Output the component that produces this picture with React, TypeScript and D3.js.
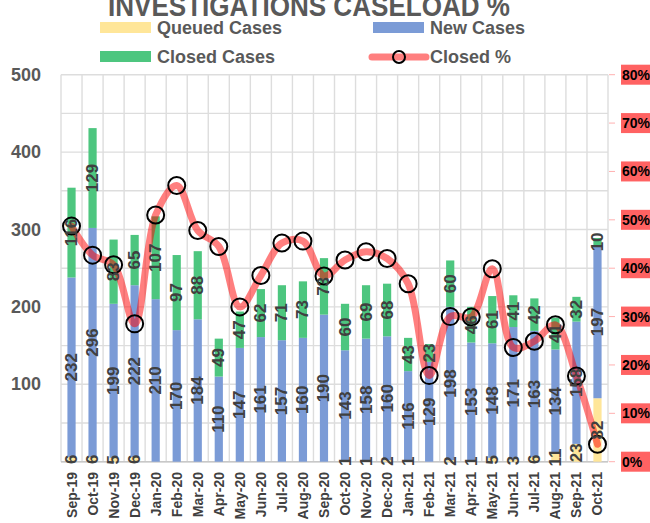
import React from "react";
import * as d3 from "d3";

const months = ["Sep-19","Oct-19","Nov-19","Dec-19","Jan-20","Feb-20","Mar-20","Apr-20","May-20","Jun-20","Jul-20","Aug-20","Sep-20","Oct-20","Nov-20","Dec-20","Jan-21","Feb-21","Mar-21","Apr-21","May-21","Jun-21","Jul-21","Aug-21","Sep-21","Oct-21"];
const queuedCases = [6,6,5,6,0,0,0,0,0,0,0,0,0,1,1,2,1,0,2,1,5,3,6,11,23,82];
const newCases = [232,296,199,222,210,170,184,110,147,161,157,160,190,143,158,160,116,129,198,153,148,171,163,134,158,197];
const closedCases = [116,129,83,65,107,97,88,49,47,62,71,73,73,60,69,68,43,23,60,46,61,41,42,41,32,10];
const closedPct = [48.7,42.7,40.7,28.5,51.0,57.1,47.8,44.5,32.0,38.5,45.2,45.6,38.4,41.7,43.4,42.0,36.8,17.8,30.0,29.9,39.9,23.6,24.9,28.3,17.7,3.6];
const leftTicks = [100,200,300,400,500];
const gridTicks = [0,50,100,150,200,250,300,350,400,450,500];
const rightTicks = [0,10,20,30,40,50,60,70,80];

const C_Q = "#FFE699";
const C_N = "#7B9BD6";
const C_C = "#4DC67F";
const FONT = "'Liberation Sans', Arial, sans-serif";
const LBL = "#404040";

export default function App() {
  const W = 650, H = 523;
  const left = 61, right = 608, top = 74.7, bottom = 461.7;
  const x = d3.scaleBand<string>().domain(months).range([left, right]).padding(0);
  const y = d3.scaleLinear().domain([0, 500]).range([bottom, top]);
  const yp = d3.scaleLinear().domain([0, 80]).range([bottom, top]);
  const bw = x.bandwidth() * 0.39;

  const rows = months.map((m, i) => {
    const q = queuedCases[i], n = newCases[i], c = closedCases[i];
    return { m, q, n, c, p: closedPct[i], cx: (x(m) as number) + x.bandwidth() / 2 };
  });

  const line = d3.line<any>()
    .x((d) => d.cx)
    .y((d) => yp(d.p))
    .curve(d3.curveCatmullRom.alpha(0.5));

  const label = (key: string, cx: number, cy: number, v: number) => (
    <text key={key} transform={`translate(${cx},${cy}) rotate(-90)`} textAnchor="middle" dominantBaseline="central"
      fontFamily={FONT} fontWeight="bold" fontSize={17} fill={LBL}>{v}</text>
  );

  return (
    <svg width={W} height={H} style={{ position: "fixed", left: 0, top: 0, background: "#fff" }}>
      <rect x={0} y={0} width={W} height={H} fill="#fff" />
      {/* title */}
      <text x={309} y={16} textAnchor="middle" fontFamily={FONT} fontWeight="bold" fontSize={30} fill="#595959"
        textLength={402} lengthAdjust="spacingAndGlyphs">INVESTIGATIONS CASELOAD %</text>
      {/* legend */}
      <g fontFamily={FONT} fontWeight="bold" fontSize={18} fill="#595959">
        <rect x={100} y={22} width={51} height={11} fill={C_Q} />
        <text x={157} y={34}>Queued Cases</text>
        <rect x={373} y={22} width={51} height={11} fill={C_N} />
        <text x={430} y={34}>New Cases</text>
        <rect x={100} y={51} width={51} height={11} fill={C_C} />
        <text x={157} y={63}>Closed Cases</text>
        <line x1={372} x2={426} y1={57} y2={57} stroke="#FF0000" strokeOpacity={0.5} strokeWidth={7} strokeLinecap="round" />
        <circle cx={399} cy={57} r={6} fill="none" stroke="#000" strokeWidth={2} />
        <text x={430} y={63}>Closed %</text>
      </g>
      {/* gridlines */}
      <g stroke="#DDDDDD" strokeWidth={1.4}>
        {gridTicks.map((t) => <line key={"h" + t} x1={left} x2={right} y1={y(t)} y2={y(t)} />)}
        {months.map((m) => <line key={"v" + m} x1={x(m)} x2={x(m)} y1={top} y2={bottom} />)}
        <line x1={right} x2={right} y1={top} y2={bottom} />
      </g>
      <line x1={left} x2={right} y1={bottom} y2={bottom} stroke="#C8C8C8" strokeWidth={1.4} />
      {/* left axis */}
      <g fontFamily={FONT} fontWeight="bold" fontSize={18} fill="#595959">
        {leftTicks.map((t) => <text key={t} x={41} y={y(t)} textAnchor="end" dominantBaseline="central">{t}</text>)}
      </g>
      {/* right axis */}
      <g>
        {rightTicks.map((t) => (
          <g key={t}>
            <line x1={609} x2={615} y1={yp(t)} y2={yp(t)} stroke="#FFB0B0" strokeWidth={1} />
            <rect x={621} y={yp(t) - 10} width={32} height={20} fill="#FF6262" />
            <text x={622} y={yp(t)} dominantBaseline="central" fontFamily={FONT} fontWeight="bold" fontSize={14} fill="#000">{t}%</text>
          </g>
        ))}
      </g>
      {/* bars */}
      {rows.map((r) => (
        <g key={r.m}>
          {r.q > 0 && <rect x={r.cx - bw / 2} y={y(r.q)} width={bw} height={y(0) - y(r.q)} fill={C_Q} />}
          <rect x={r.cx - bw / 2} y={y(r.q + r.n)} width={bw} height={y(r.q) - y(r.q + r.n)} fill={C_N} />
          <rect x={r.cx - bw / 2} y={y(r.q + r.n + r.c)} width={bw} height={y(r.q + r.n) - y(r.q + r.n + r.c)} fill={C_C} />
        </g>
      ))}
      {/* line */}
      <path d={line(rows) as string} fill="none" stroke="#FF0000" strokeOpacity={0.5} strokeWidth={7} strokeLinejoin="round" strokeLinecap="round" />
      {rows.map((r) => <circle key={"c" + r.m} cx={r.cx} cy={yp(r.p)} r={8.5} fill="none" stroke="#000" strokeWidth={2} />)}
      {/* data labels */}
      {rows.map((r) => (
        <g key={"l" + r.m}>
          {r.q > 0 && label("q", r.cx, y(r.q / 2), r.q)}
          {label("n", r.cx, y(r.q + r.n / 2), r.n)}
          {label("c", r.cx, y(r.q + r.n + r.c / 2), r.c)}
        </g>
      ))}
      {/* x labels */}
      <g fontFamily={FONT} fontWeight="bold" fontSize={14} fill={LBL}>
        {rows.map((r) => (
          <text key={"x" + r.m} transform={`translate(${r.cx},472) rotate(-90)`} textAnchor="end" dominantBaseline="central">{r.m}</text>
        ))}
      </g>
    </svg>
  );
}
